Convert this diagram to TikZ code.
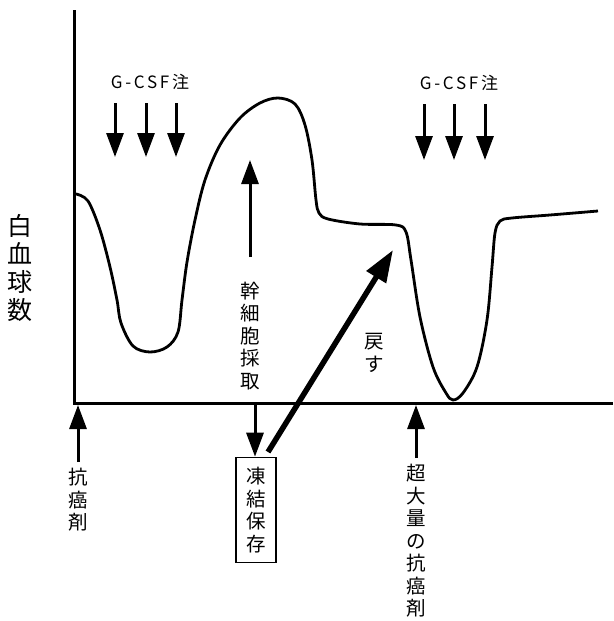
\documentclass[tikz,border=0pt]{standalone}
\usepackage{fontspec}
\setmainfont{Noto Sans CJK JP}
\usetikzlibrary{arrows.meta}
\begin{document}
\begin{tikzpicture}[x=1pt,y=-1pt,
  ax/.style={line width=3pt},
  curve/.style={line width=2.8pt, line join=round},
  thinarr/.style={line width=3pt, -{Triangle[length=24pt,width=17pt]}},
  thickarr/.style={line width=5.5pt, -{Triangle[length=32pt,width=22pt]}},
  vtext/.style={align=center, inner sep=0pt, font=\fontsize{19.5}{22.5}\selectfont},
  bigv/.style={align=center, inner sep=0pt, font=\fontsize{25}{28}\selectfont},
  gcsf/.style={inner sep=0pt, font=\fontsize{17}{18}\selectfont\addfontfeatures{LetterSpace=16}}
]
\useasboundingbox (0,0) rectangle (613,621);
% axes
\coordinate (ytop) at (74,10);
\coordinate (orig) at (74,403);
\coordinate (xend) at (613,403);
\draw[ax] (ytop) -- (orig) -- (xend);
% curve
\draw[curve] plot[smooth, tension=0.55] coordinates {
 (76,194) (88,201) (100,230) (110,267) (117,300) (121,323) (133,346) (150,352)
 (167,347) (178,332) (182,300) (187,262) (195,220) (205,180) (220,145) (240,118)
 (260,103) (278,98) (295,104) (305,125) (312,160) (316,200) (319,213) (328,219) (360,224)
 (396,225) (406,232) (411,260) (420,317) (433,367) (446,393) (453,400) (463,393)
 (477,367) (487,320) (492,267) (495,233) (500,221) (512,218) (550,215) (598,211)};
% G-CSF left
\node[gcsf] (g1) at (150,82) {G-CSF注};
\foreach \i/\x in {a/115,b/146,c/176}{
  \coordinate (g1\i s) at (\x,103);
  \coordinate (g1\i e) at (\x,157);
  \draw[thinarr] (g1\i s) -- (g1\i e);
}
% G-CSF right
\node[gcsf] (g2) at (459,83) {G-CSF注};
\foreach \i/\x in {a/424,b/454,c/485}{
  \coordinate (g2\i s) at (\x,104);
  \coordinate (g2\i e) at (\x,160);
  \draw[thinarr] (g2\i s) -- (g2\i e);
}
% y label
\node[bigv] (ylab) at (20,268) {白\\血\\球\\数};
% stem cell harvest
\node[vtext] (harv) at (250,336) {幹\\細\\胞\\採\\取};
\coordinate (harvs) at (250,257);
\coordinate (harvtop) at (250,160);
\draw[thinarr] (harvs) -- (harvtop);
% freeze box
\node[draw, line width=1.6pt, minimum width=40pt, minimum height=105pt, inner sep=0pt, vtext] (box) at (256,510) {凍\\結\\保\\存};
\coordinate (downs) at (255,404);
\draw[thinarr] (downs) -- (box.north -| downs);
% return arrow
\coordinate (rets) at (268,452);
\coordinate (rete) at (393,250);
\draw[thickarr] (rets) -- (rete);
\node[vtext] (ret) at (374,353) {戻\\す};
% anticancer drug
\node[vtext] (drug1) at (78,500) {抗\\癌\\剤};
\coordinate (d1s) at (78,462);
\coordinate (d1e) at (78,405);
\draw[thinarr] (d1s) -- (d1e);
% high dose
\node[vtext] (drug2) at (416,541) {超\\大\\量\\の\\抗\\癌\\剤};
\coordinate (d2s) at (416,458);
\coordinate (d2e) at (416,405);
\draw[thinarr] (d2s) -- (d2e);
\end{tikzpicture}
\end{document}
